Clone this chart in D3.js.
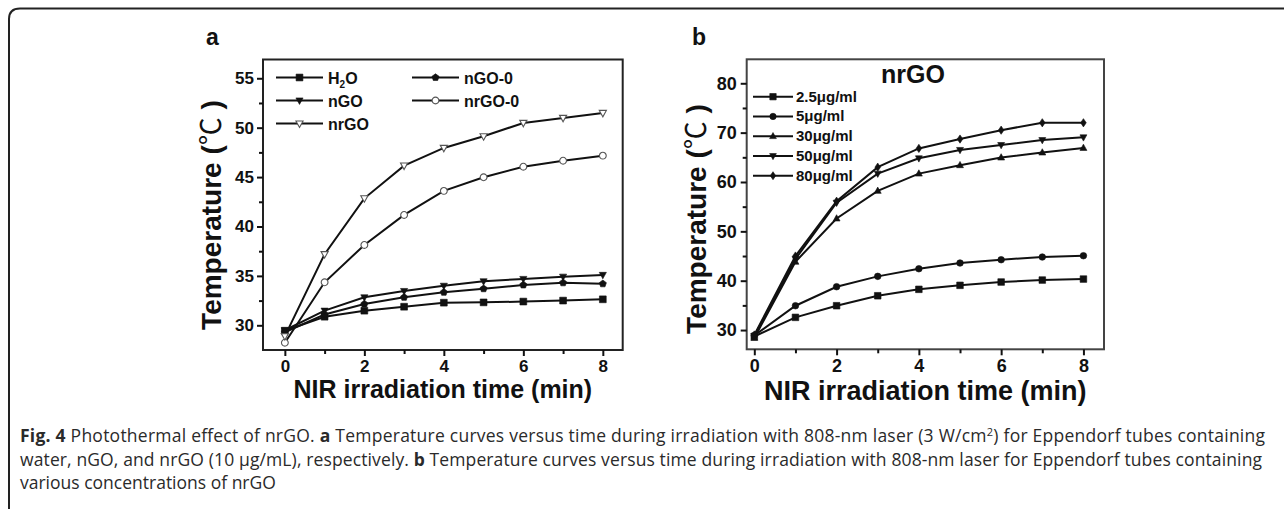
<!DOCTYPE html>
<html><head><meta charset="utf-8">
<script src="https://cdn.jsdelivr.net/npm/d3@7"></script>
<style>
html,body{margin:0;padding:0;background:#fff;}
svg{display:block;}
</style></head>
<body>
<svg id="chart" width="1284" height="509"></svg>
<script>
// ---------- DATA ----------
const timeMin = [0,1,2,3,4,5,6,7,8];

// Panel a
const seriesA = ["H2O","nGO-0","nGO","nrGO-0","nrGO"];
const h2o   = [29.45,30.87,31.48,31.88,32.29,32.32,32.40,32.50,32.63];
const nGO0  = [29.30,31.10,32.15,32.83,33.34,33.70,34.08,34.30,34.20];
const nGO   = [29.50,31.48,32.83,33.47,34.00,34.45,34.69,34.92,35.10];
const nrGO0 = [28.24,34.35,38.13,41.17,43.60,44.98,46.05,46.66,47.17];
const nrGO  = [28.90,37.20,42.85,46.16,47.95,49.13,50.48,50.99,51.49];

// Panel b
const seriesB = ["2.5μg/ml","5μg/ml","30μg/ml","50μg/ml","80μg/ml"];
const c2_5 = [28.7,32.57,34.93,36.95,38.25,39.06,39.73,40.13,40.33];
const c5   = [28.9,34.93,38.78,40.88,42.42,43.58,44.25,44.80,45.06];
const c30  = [28.4,43.84,52.60,58.20,61.70,63.40,64.96,65.97,66.90];
const c50  = [28.8,44.40,55.80,61.70,64.80,66.50,67.50,68.50,69.05];
const c80  = [29.0,45.00,56.10,63.00,66.80,68.70,70.50,72.00,72.00];

const xTicksMajor = [0,2,4,6,8];
const xTicksMinor = [1,3,5,7];
const yTicksA = [30,35,40,45,50,55];
const yMinorA = [32.5,37.5,42.5,47.5,52.5];
const yTicksB = [30,40,50,60,70,80];
const yMinorB = [35,45,55,65,75];

// ---------- DRAW ----------
const svg = d3.select("#chart");
const INK = "#111";
const FONT = "'Liberation Sans', Arial, sans-serif";

// outer rounded frame (open on right & bottom)
svg.append("path")
  .attr("d","M9,509 L9,19 Q9,8.5 20,8.5 L1284,8.5")
  .attr("fill","none").attr("stroke","#222").attr("stroke-width",2);

function symbolPath(kind, s){
  switch(kind){
    case "square": return `M${-s},${-s}H${s}V${s}H${-s}Z`;
    case "circle": return d3.symbol(d3.symbolCircle, Math.PI*s*s)();
    case "up": return `M0,${-s*1.15}L${s*1.05},${s*0.75}L${-s*1.05},${s*0.75}Z`;
    case "down": return `M0,${s*1.15}L${s*1.05},${-s*0.75}L${-s*1.05},${-s*0.75}Z`;
    case "diamond": return `M0,${-s*1.25}L${s*0.85},0L0,${s*1.25}L${-s*0.85},0Z`;
    case "pent": {
      const pts = d3.range(5).map(i=>{const a=-Math.PI/2+i*2*Math.PI/5;return [Math.cos(a)*s*1.1,Math.sin(a)*s*1.1];});
      return "M"+pts.map(p=>p.join(",")).join("L")+"Z";
    }
  }
}

function panel(cfg){
  const g = svg.append("g");
  const x = d3.scaleLinear().domain(cfg.xDom).range([cfg.left,cfg.right]);
  const y = d3.scaleLinear().domain(cfg.yDom).range([cfg.bottom,cfg.top]);

  const line = d3.line().x((d,i)=>x(timeMin[i])).y(d=>y(d));
  cfg.series.forEach(s=>{
    g.append("path").datum(s.values).attr("d",line)
      .attr("fill","none").attr("stroke",INK).attr("stroke-width",cfg.lw);
    g.selectAll(null).data(s.values).enter().append("path")
      .attr("transform",(d,i)=>`translate(${x(timeMin[i])},${y(d)})`)
      .attr("d",symbolPath(s.shape,cfg.ms))
      .attr("fill",s.open?"#fff":INK).attr("stroke",s.open?"#555":INK).attr("stroke-width",s.open?1.1:0.6);
  });

  g.append("rect").attr("x",cfg.left).attr("y",cfg.top)
    .attr("width",cfg.right-cfg.left).attr("height",cfg.bottom-cfg.top)
    .attr("fill","none").attr("stroke",cfg.frameColor).attr("stroke-width",2);

  const xAx = g.append("g").attr("transform",`translate(0,${cfg.bottom})`)
    .call(d3.axisBottom(x).tickValues(xTicksMajor).tickSize(6).tickPadding(cfg.xPad).tickFormat(d3.format("d")));
  g.append("g").attr("transform",`translate(0,${cfg.bottom})`)
    .call(d3.axisBottom(x).tickValues(xTicksMinor).tickSize(4).tickFormat(""));
  const yAx = g.append("g").attr("transform",`translate(${cfg.left},0)`)
    .call(d3.axisLeft(y).tickValues(cfg.yMajor).tickSize(6).tickPadding(cfg.yPad).tickFormat(d3.format("d")));
  g.append("g").attr("transform",`translate(${cfg.left},0)`)
    .call(d3.axisLeft(y).tickValues(cfg.yMinor).tickSize(4).tickFormat(""));
  g.selectAll(".domain").remove();
  g.selectAll(".tick line").attr("stroke",INK).attr("stroke-width",2);
  g.selectAll(".tick text").attr("fill",INK).style("font-family",FONT).style("font-weight","bold");
  xAx.selectAll("text").style("font-size",cfg.xTickFs+"px");
  yAx.selectAll("text").style("font-size",cfg.yTickFs+"px");

  g.append("text").attr("x",(cfg.left+cfg.right)/2).attr("y",cfg.xTitleY)
    .attr("text-anchor","middle").style("font-family",FONT).style("font-weight","bold")
    .style("font-size",cfg.titleFs+"px").attr("fill",INK).text("NIR irradiation time (min)");
  const yt = g.append("text").attr("transform",`translate(${cfg.yTitleX},${cfg.yTitleC}) rotate(-90)`)
    .attr("text-anchor","middle").style("font-family",FONT).style("font-weight","bold")
    .style("font-size",cfg.yTitleFs+"px").attr("fill",INK);
  yt.append("tspan").text("Temperature (");
  yt.append("tspan").style("font-family","'Noto Sans CJK SC', 'DejaVu Sans', sans-serif").style("font-weight","normal").text("℃");
  yt.append("tspan").text(" )");
  g.append("text").attr("x",cfg.labelX).attr("y",45).style("font-family",FONT).style("font-weight","bold")
    .style("font-size","23px").attr("fill",INK).text(cfg.label);
  return {g,x,y};
}

const A = panel({
  xDom:[-0.55,8.5], yDom:[27.5,56.9], left:263, right:622.7, top:59.5, bottom:350,
  lw:2, ms:3.4, frameColor:"#222", xPad:4, yPad:3, xTickFs:17, yTickFs:17, titleFs:25,
  yTitleFs:28, yTitleC:215,
  xTitleY:398, yTitleX:221, labelX:206, label:"a",
  yMajor:yTicksA, yMinor:yMinorA,
  series:[
    {name:seriesA[0],values:h2o,shape:"square"},
    {name:seriesA[1],values:nGO0,shape:"pent"},
    {name:seriesA[2],values:nGO,shape:"down"},
    {name:seriesA[3],values:nrGO0,shape:"circle",open:true},
    {name:seriesA[4],values:nrGO,shape:"down",open:true}
  ]
});
const B = panel({
  xDom:[-0.185,8.5], yDom:[26.1,84.86], left:746.7, right:1104, top:59.3, bottom:349.3,
  lw:2, ms:3.3, frameColor:"#444", xPad:4, yPad:4, xTickFs:18, yTickFs:18, titleFs:27,
  yTitleFs:28, yTitleC:219,
  xTitleY:400, yTitleX:706, labelX:692, label:"b",
  yMajor:yTicksB, yMinor:yMinorB,
  series:[
    {name:seriesB[0],values:c2_5,shape:"square"},
    {name:seriesB[1],values:c5,shape:"circle"},
    {name:seriesB[2],values:c30,shape:"up"},
    {name:seriesB[3],values:c50,shape:"down"},
    {name:seriesB[4],values:c80,shape:"diamond"}
  ]
});

// Legend a
const legA = [
  {t:"H2O",shape:"square",col:0,row:0},
  {t:"nGO-0",shape:"pent",col:1,row:0},
  {t:"nGO",shape:"down",col:0,row:1},
  {t:"nrGO-0",shape:"circle",open:true,col:1,row:1},
  {t:"nrGO",shape:"down",open:true,col:0,row:2}
];
legA.forEach(d=>{
  const x0 = d.col===0?276:412, yc = 77.5+d.row*23;
  A.g.append("line").attr("x1",x0).attr("x2",x0+47).attr("y1",yc).attr("y2",yc).attr("stroke",INK).attr("stroke-width",2);
  A.g.append("path").attr("transform",`translate(${x0+23.5},${yc})`).attr("d",symbolPath(d.shape,3.4))
    .attr("fill",d.open?"#fff":INK).attr("stroke",d.open?"#555":INK).attr("stroke-width",d.open?1.1:0.6);
  const t = A.g.append("text").attr("x",x0+52).attr("y",yc+6).style("font-family",FONT).style("font-weight","bold")
    .style("font-size","16px").attr("fill",INK);
  if(d.t==="H2O"){
    t.append("tspan").text("H");
    t.append("tspan").attr("dy",4).style("font-size","10px").text("2");
    t.append("tspan").attr("dy",-4).text("O");
  } else t.text(d.t);
});

// Legend b
B.g.append("text").attr("x",913).attr("y",83).attr("text-anchor","middle").style("font-family",FONT)
  .style("font-weight","bold").style("font-size","25px").attr("fill",INK).text("nrGO");
const shapesB = ["square","circle","up","down","diamond"];
seriesB.forEach((s,i)=>{
  const yc = 96.7+i*19.75, x0 = 753;
  B.g.append("line").attr("x1",x0).attr("x2",x0+40).attr("y1",yc).attr("y2",yc).attr("stroke",INK).attr("stroke-width",2);
  B.g.append("path").attr("transform",`translate(${x0+20},${yc})`).attr("d",symbolPath(shapesB[i],3.2))
    .attr("fill",INK).attr("stroke",INK).attr("stroke-width",0.6);
  B.g.append("text").attr("x",x0+43).attr("y",yc+5).style("font-family",FONT).style("font-weight","bold")
    .style("font-size","15px").attr("fill",INK).text(s);
});

// Caption
const CAP = "'Open Sans', 'Noto Sans', sans-serif";
const capLines = [
  {len:1245, parts:[["Fig. 4",1],[" Photothermal effect of nrGO. ",0],["a",1],[" Temperature curves versus time during irradiation with 808-nm laser (3 W/cm",0],["2",2],[") for Eppendorf tubes containing",0]]},
  {len:1242, parts:[["water, nGO, and nrGO (10 μg/mL), respectively. ",0],["b",1],[" Temperature curves versus time during irradiation with 808-nm laser for Eppendorf tubes containing",0]]},
  {len:null, parts:[["various concentrations of nrGO",0]]}
];
capLines.forEach((ln,i)=>{
  const t = svg.append("text").attr("x",20).attr("y",442+i*23.5).style("font-family",CAP)
    .style("font-size","17.5px").attr("fill","#2a2a2a");
  if(ln.len) t.attr("textLength",ln.len).attr("lengthAdjust","spacing");
  ln.parts.forEach(([s,k])=>{
    const sp = t.append("tspan").text(s);
    if(k===1) sp.style("font-weight","bold");
    if(k===2){ sp.attr("dy",-6).style("font-size","11px"); }
    if(k===0 && s.startsWith(")")) sp.attr("dy",6);
  });
});
</script>
</body></html>
